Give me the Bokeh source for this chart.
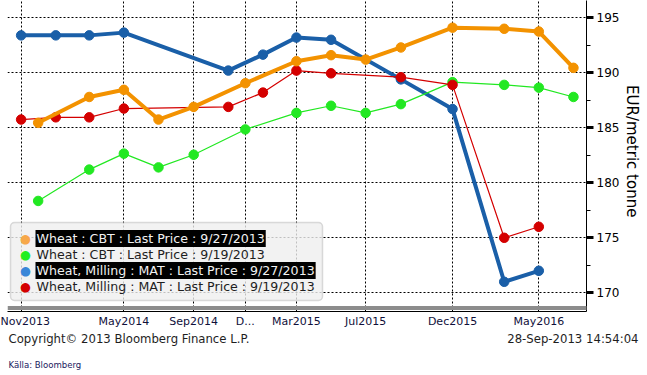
import pandas as pd
from bokeh.plotting import figure
from bokeh.layouts import column
from bokeh.models import FixedTicker, Range1d, Label, BoxAnnotation, Title
from bokeh.embed import file_html
from bokeh.resources import INLINE

# ---------------- data ----------------
cbt_months = ["2013-12-01", "2014-03-01", "2014-05-01", "2014-07-01", "2014-09-01",
              "2014-12-01", "2015-03-01", "2015-05-01", "2015-07-01", "2015-09-01",
              "2015-12-01", "2016-03-01", "2016-05-01", "2016-07-01"]
cbt_0927 = [185.45, 187.8, 188.45, 185.75, 186.9, 189.05, 191.05, 191.6, 191.2,
            192.3, 194.1, 194.0, 193.75, 190.45]
cbt_0919 = [178.35, 181.2, 182.65, 181.4, 182.55, 184.85, 186.35, 187.0, 186.35,
            187.15, 189.15, 188.9, 188.65, 187.8]

mat_months = ["2013-11-01", "2014-01-01", "2014-03-01", "2014-05-01", "2014-11-01",
              "2015-01-01", "2015-03-01", "2015-05-01", "2015-09-01", "2015-12-01",
              "2016-03-01", "2016-05-01"]
mat_0927 = [193.4, 193.4, 193.4, 193.65, 190.2, 191.65, 193.2, 193.0, 189.4,
            186.7, 171.0, 172.0]
mat_0919 = [185.75, 185.95, 185.95, 186.75, 186.9, 188.2, 190.2, 189.95, 189.6,
            188.9, 175.0, 176.0]

tick_months = ["2013-11-01", "2014-05-01", "2014-09-01", "2014-12-01", "2015-03-01",
               "2015-07-01", "2015-12-01", "2016-05-01"]
tick_labels = ["Nov2013", "May2014", "Sep2014", "D...", "Mar2015", "Jul2015",
               "Dec2015", "May2016"]
y_ticks = [170, 175, 180, 185, 190, 195]

legend_labels = ["Wheat : CBT : Last Price : 9/27/2013",
                 "Wheat : CBT : Last Price : 9/19/2013",
                 "Wheat, Milling : MAT : Last Price : 9/27/2013",
                 "Wheat, Milling : MAT : Last Price : 9/19/2013"]
legend_colors = ["#f7a84a", "#22ee22", "#3a86d8", "#d40000"]
legend_highlight = [True, False, True, False]

ORANGE = "#f39200"
GREEN = "#22e822"
BLUE = "#1a5fa8"
RED = "#d40000"
FONT = "DejaVu Sans"

# ---------------- main figure ----------------
p = figure(width=647, height=330, x_axis_type="datetime", y_axis_location="right",
           x_range=Range1d(pd.Timestamp("2013-10-08"), pd.Timestamp("2016-07-24")),
           y_range=Range1d(168.3, 196.57),
           output_backend="svg", toolbar_location=None,
           min_border_left=7, min_border_right=61, min_border_top=0, min_border_bottom=19,
           outline_line_color=None, background_fill_color="white",
           border_fill_color="white")
p.frame_align = False

cx = pd.to_datetime(cbt_months)
mx = pd.to_datetime(mat_months)

p.line(mx, mat_0927, line_width=4, color=BLUE)
p.scatter(mx, mat_0927, size=9.5, color=BLUE)
p.line(cx, cbt_0919, line_width=1.2, color=GREEN)
p.scatter(cx, cbt_0919, size=9.5, color=GREEN)
p.line(mx, mat_0919, line_width=1.2, color=RED)
p.scatter(mx, mat_0919, size=9.5, color=RED)
p.line(cx, cbt_0927, line_width=4, color=ORANGE)
p.scatter(cx, cbt_0927, size=9.5, color=ORANGE)

# ---------------- axes ----------------
tick_ms = [int(pd.Timestamp(d).value // 10**6) for d in tick_months]
xa = p.xaxis[0]
xa.ticker = FixedTicker(ticks=tick_ms)
xa.major_label_overrides = {t: l for t, l in zip(tick_ms, tick_labels)}
xa.major_tick_line_color = None
xa.major_tick_out = 0
xa.major_tick_in = 0
xa.minor_tick_line_color = None
xa.minor_tick_out = 0
xa.axis_line_color = "black"
xa.major_label_text_font = FONT
xa.major_label_text_font_size = "11px"
xa.major_label_text_color = "#10103a"
xa.major_label_standoff = 3

ya = p.yaxis[0]
ya.ticker = FixedTicker(ticks=y_ticks, minor_ticks=[t + 2.5 for t in y_ticks[:-1]])
ya.major_tick_in = 0
ya.major_tick_out = 7
ya.major_tick_line_width = 3
ya.minor_tick_in = 0
ya.minor_tick_out = 4
ya.axis_line_color = "black"
ya.major_label_text_font = FONT
ya.major_label_text_font_size = "12px"
ya.major_label_text_color = "black"
ya.major_label_standoff = 3

# y-axis title on the right (trailing no-break spaces nudge it upward)
p.add_layout(Title(text="EUR/metric tonne" + "\u00a0" * 2, align="center",
                   text_font=FONT, text_font_size="15px", text_font_style="normal",
                   text_color="black", standoff=1), "right")

for g in (p.xgrid[0], p.ygrid[0]):
    g.grid_line_color = "black"
    g.grid_line_dash = "2 2"
    g.grid_line_width = 1

# gray bar at bottom of the plot area
p.add_layout(BoxAnnotation(left=0, right=634, bottom=1.5, top=5.5,
                           left_units="screen", right_units="screen",
                           bottom_units="screen", top_units="screen",
                           fill_color="#8c8c8c", fill_alpha=1, line_color=None))

# ---------------- legend ----------------
p.add_layout(BoxAnnotation(left=3, right=315, bottom=11, top=89,
                           left_units="screen", right_units="screen",
                           bottom_units="screen", top_units="screen",
                           fill_color="#efefef", fill_alpha=0.8,
                           line_color="#8a8a8a", line_width=1.5, border_radius=4))
for i, (lab, col, hi) in enumerate(zip(legend_labels, legend_colors, legend_highlight)):
    yc = 73 - 16 * i
    p.add_layout(Label(x=18, y=yc, x_units="screen", y_units="screen", text="●",
                       text_align="center", text_baseline="middle",
                       text_font=FONT, text_font_size="12.5px", text_color=col))
    p.add_layout(Label(x=28, y=yc, x_units="screen", y_units="screen", text=lab,
                       text_align="left", text_baseline="middle",
                       text_font=FONT, text_font_size="12.6px",
                       text_color="#f2f2f2" if hi else "#1e1e1e",
                       background_fill_color="black" if hi else None,
                       padding=1))

# ---------------- footer ----------------
f = figure(width=647, height=45, x_range=Range1d(0, 1), y_range=Range1d(0, 1),
           x_axis_location=None, y_axis_location=None,
           output_backend="svg", toolbar_location=None,
           min_border_left=0, min_border_right=0, min_border_top=0, min_border_bottom=0,
           outline_line_color=None, background_fill_color="white",
           border_fill_color="white")
f.frame_align = False
f.grid.visible = False
f.add_layout(Label(x=8, y=37, x_units="screen", y_units="screen",
                   text="Copyright© 2013 Bloomberg Finance L.P.",
                   text_align="left", text_baseline="middle",
                   text_font=FONT, text_font_size="11.7px", text_color="#1e1e1e"))
f.add_layout(Label(x=638, y=37, x_units="screen", y_units="screen",
                   text="28-Sep-2013 14:54:04",
                   text_align="right", text_baseline="middle",
                   text_font=FONT, text_font_size="11.7px", text_color="#1e1e1e"))
f.add_layout(Label(x=8, y=11, x_units="screen", y_units="screen",
                   text="Källa: Bloomberg",
                   text_align="left", text_baseline="middle",
                   text_font="DejaVu Sans Condensed, Liberation Sans Narrow, DejaVu Sans",
                   text_font_size="9.5px", text_color="#1a1a60"))

layout = column(p, f, spacing=0)
open("out.html", "w").write(file_html(layout, INLINE, title="Wheat"))
